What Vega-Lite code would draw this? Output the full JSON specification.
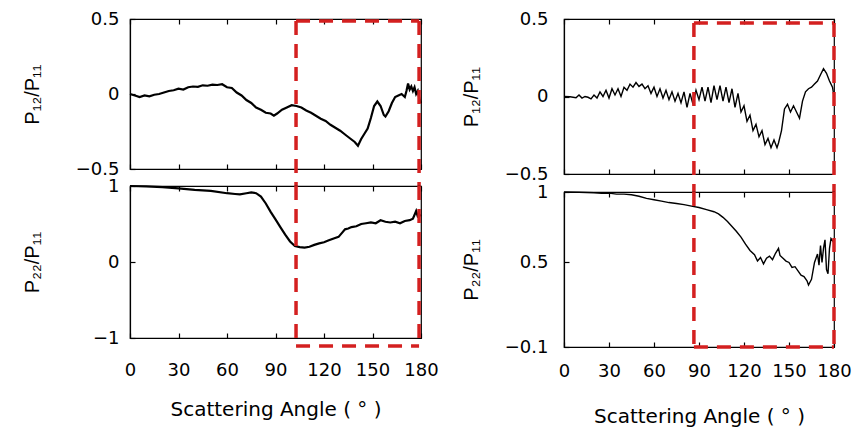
{
  "$schema": "https://vega.github.io/schema/vega-lite/v6.json",
  "background": "white",
  "padding": {"left": 21, "top": 9, "right": 0, "bottom": 0},
  "spacing": 21,
  "config": {
    "view": {"stroke": "black", "strokeWidth": 1.2},
    "font": "DejaVu Sans",
    "axis": {"grid": false, "domainColor": "black", "tickColor": "black", "labelColor": "black", "titleColor": "black", "labelFont": "DejaVu Sans", "titleFont": "DejaVu Sans", "labelFontSize": 18, "titleFontSize": 20, "titleFontWeight": "normal", "tickSize": -5, "domainWidth": 1.2, "tickWidth": 1.2, "labelOverlap": false, "labelFlush": false},
    "axisY": {"titleFont": "Liberation Sans", "format": "~g"}
  },
  "datasets": {
    "lt": [
      {"a":0,"v":0.0},{"a":3,"v":-0.01},{"a":6,"v":-0.02},{"a":9,"v":-0.01},{"a":12,"v":-0.015},{"a":15,"v":-0.005},{"a":18,"v":0.0},{"a":21,"v":0.01},{"a":24,"v":0.02},{"a":27,"v":0.025},{"a":30,"v":0.035},{"a":33,"v":0.03},{"a":36,"v":0.045},{"a":39,"v":0.05},{"a":42,"v":0.048},{"a":45,"v":0.058},{"a":48,"v":0.055},{"a":51,"v":0.062},{"a":54,"v":0.06},{"a":57,"v":0.065},{"a":60,"v":0.045},{"a":63,"v":0.04},{"a":66,"v":0.01},{"a":69,"v":-0.01},{"a":72,"v":-0.04},{"a":75,"v":-0.06},{"a":78,"v":-0.09},{"a":81,"v":-0.105},{"a":84,"v":-0.125},{"a":87,"v":-0.13},{"a":89,"v":-0.145},{"a":91,"v":-0.13},{"a":94,"v":-0.105},{"a":97,"v":-0.09},{"a":100,"v":-0.075},{"a":103,"v":-0.08},{"a":106,"v":-0.09},{"a":109,"v":-0.11},{"a":112,"v":-0.125},{"a":115,"v":-0.145},{"a":118,"v":-0.165},{"a":121,"v":-0.18},{"a":124,"v":-0.205},{"a":127,"v":-0.225},{"a":130,"v":-0.245},{"a":133,"v":-0.27},{"a":136,"v":-0.295},{"a":139,"v":-0.32},{"a":141,"v":-0.345},{"a":143,"v":-0.3},{"a":145,"v":-0.265},{"a":147,"v":-0.23},{"a":149,"v":-0.16},{"a":151,"v":-0.08},{"a":153,"v":-0.05},{"a":155,"v":-0.08},{"a":157,"v":-0.14},{"a":158,"v":-0.15},{"a":160,"v":-0.115},{"a":162,"v":-0.06},{"a":164,"v":-0.02},{"a":166,"v":-0.01},{"a":168,"v":0.0},{"a":170,"v":-0.02},{"a":171,"v":0.02},{"a":172,"v":0.07},{"a":173,"v":0.03},{"a":174,"v":0.05},{"a":175,"v":0.02},{"a":176,"v":0.045},{"a":177,"v":0.0},{"a":178,"v":0.02},{"a":179,"v":-0.03},{"a":180,"v":-0.06}
    ],
    "lb": [
      {"a":0,"v":1.0},{"a":10,"v":0.995},{"a":20,"v":0.985},{"a":30,"v":0.97},{"a":40,"v":0.95},{"a":50,"v":0.935},{"a":60,"v":0.905},{"a":65,"v":0.895},{"a":68,"v":0.89},{"a":72,"v":0.905},{"a":75,"v":0.915},{"a":78,"v":0.905},{"a":81,"v":0.86},{"a":84,"v":0.77},{"a":87,"v":0.66},{"a":90,"v":0.56},{"a":93,"v":0.46},{"a":96,"v":0.36},{"a":99,"v":0.27},{"a":102,"v":0.21},{"a":105,"v":0.195},{"a":108,"v":0.19},{"a":111,"v":0.2},{"a":114,"v":0.225},{"a":117,"v":0.245},{"a":120,"v":0.26},{"a":123,"v":0.285},{"a":126,"v":0.31},{"a":129,"v":0.33},{"a":131,"v":0.38},{"a":133,"v":0.43},{"a":135,"v":0.44},{"a":137,"v":0.46},{"a":140,"v":0.47},{"a":143,"v":0.5},{"a":146,"v":0.51},{"a":149,"v":0.52},{"a":152,"v":0.51},{"a":155,"v":0.55},{"a":158,"v":0.53},{"a":161,"v":0.52},{"a":164,"v":0.53},{"a":167,"v":0.51},{"a":170,"v":0.54},{"a":173,"v":0.55},{"a":175,"v":0.57},{"a":177,"v":0.67},{"a":178,"v":0.6},{"a":180,"v":0.62}
    ],
    "rt": [
      {"a":0,"v":0.0},{"a":4,"v":-0.002},{"a":8,"v":-0.008},{"a":10,"v":0.01},{"a":12,"v":-0.01},{"a":14,"v":0.0},{"a":16,"v":-0.005},{"a":18,"v":-0.015},{"a":20,"v":0.01},{"a":22,"v":-0.01},{"a":24,"v":0.03},{"a":26,"v":0.0},{"a":28,"v":0.04},{"a":30,"v":-0.01},{"a":32,"v":0.05},{"a":34,"v":0.01},{"a":36,"v":0.05},{"a":38,"v":0.0},{"a":40,"v":0.06},{"a":42,"v":0.04},{"a":44,"v":0.08},{"a":46,"v":0.06},{"a":48,"v":0.09},{"a":50,"v":0.065},{"a":52,"v":0.08},{"a":54,"v":0.05},{"a":56,"v":0.07},{"a":58,"v":0.02},{"a":60,"v":0.06},{"a":62,"v":0.0},{"a":64,"v":0.05},{"a":66,"v":-0.01},{"a":68,"v":0.04},{"a":70,"v":-0.02},{"a":72,"v":0.03},{"a":74,"v":-0.03},{"a":76,"v":0.02},{"a":78,"v":-0.04},{"a":80,"v":0.03},{"a":82,"v":-0.07},{"a":84,"v":0.02},{"a":86,"v":-0.05},{"a":88,"v":0.04},{"a":90,"v":-0.02},{"a":92,"v":0.06},{"a":94,"v":-0.03},{"a":96,"v":0.06},{"a":98,"v":-0.04},{"a":100,"v":0.07},{"a":102,"v":-0.02},{"a":104,"v":0.07},{"a":106,"v":-0.03},{"a":108,"v":0.06},{"a":110,"v":-0.04},{"a":112,"v":0.05},{"a":114,"v":-0.07},{"a":116,"v":0.02},{"a":118,"v":-0.1},{"a":120,"v":-0.06},{"a":122,"v":-0.16},{"a":124,"v":-0.12},{"a":126,"v":-0.22},{"a":128,"v":-0.18},{"a":130,"v":-0.26},{"a":132,"v":-0.22},{"a":134,"v":-0.31},{"a":136,"v":-0.27},{"a":138,"v":-0.33},{"a":140,"v":-0.28},{"a":142,"v":-0.33},{"a":143,"v":-0.3},{"a":145,"v":-0.22},{"a":147,"v":-0.08},{"a":149,"v":-0.05},{"a":151,"v":-0.1},{"a":153,"v":-0.06},{"a":155,"v":-0.1},{"a":157,"v":-0.14},{"a":159,"v":-0.03},{"a":161,"v":0.03},{"a":163,"v":0.05},{"a":165,"v":0.06},{"a":167,"v":0.08},{"a":169,"v":0.1},{"a":171,"v":0.14},{"a":173,"v":0.18},{"a":175,"v":0.15},{"a":177,"v":0.1},{"a":179,"v":0.06},{"a":180,"v":0.0}
    ],
    "rb": [
      {"a":0,"v":1.0},{"a":10,"v":0.998},{"a":20,"v":0.995},{"a":25,"v":0.99},{"a":30,"v":0.992},{"a":35,"v":0.985},{"a":40,"v":0.985},{"a":45,"v":0.98},{"a":50,"v":0.97},{"a":55,"v":0.955},{"a":60,"v":0.945},{"a":65,"v":0.935},{"a":70,"v":0.925},{"a":75,"v":0.918},{"a":80,"v":0.91},{"a":85,"v":0.9},{"a":90,"v":0.89},{"a":95,"v":0.875},{"a":100,"v":0.86},{"a":103,"v":0.845},{"a":106,"v":0.82},{"a":109,"v":0.79},{"a":112,"v":0.755},{"a":115,"v":0.72},{"a":118,"v":0.68},{"a":121,"v":0.63},{"a":124,"v":0.585},{"a":127,"v":0.555},{"a":129,"v":0.51},{"a":131,"v":0.535},{"a":133,"v":0.49},{"a":135,"v":0.53},{"a":137,"v":0.545},{"a":139,"v":0.52},{"a":141,"v":0.565},{"a":143,"v":0.6},{"a":144,"v":0.55},{"a":146,"v":0.53},{"a":148,"v":0.51},{"a":150,"v":0.5},{"a":152,"v":0.465},{"a":154,"v":0.47},{"a":156,"v":0.44},{"a":158,"v":0.41},{"a":160,"v":0.4},{"a":162,"v":0.37},{"a":163,"v":0.34},{"a":165,"v":0.38},{"a":167,"v":0.5},{"a":169,"v":0.56},{"a":170,"v":0.48},{"a":171,"v":0.62},{"a":172,"v":0.5},{"a":173,"v":0.6},{"a":174,"v":0.66},{"a":175,"v":0.45},{"a":176,"v":0.42},{"a":177,"v":0.6},{"a":178,"v":0.67},{"a":180,"v":0.64}
    ],
    "ltbox": [
      {"x":102.7,"x2":102.7,"y":0.487,"y2":-0.615},
      {"x":178.8,"x2":178.8,"y":0.487,"y2":-0.615},
      {"x":102.7,"x2":178.8,"y":0.487,"y2":0.487}
    ],
    "lbbox": [
      {"x":102.7,"x2":102.7,"y":1.0,"y2":-1.105},
      {"x":178.8,"x2":178.8,"y":1.0,"y2":-1.105},
      {"x":102.7,"x2":178.8,"y":-1.105,"y2":-1.105}
    ],
    "rtbox": [
      {"x":86.6,"x2":86.6,"y":0.474,"y2":-0.616},
      {"x":180,"x2":180,"y":0.474,"y2":-0.616},
      {"x":86.6,"x2":180,"y":0.474,"y2":0.474}
    ],
    "rbbox": [
      {"x":86.6,"x2":86.6,"y":1.0,"y2":-0.1},
      {"x":180,"x2":180,"y":1.0,"y2":-0.1},
      {"x":86.6,"x2":180,"y":-0.1,"y2":-0.1}
    ]
  },
  "hconcat": [
    {
      "spacing": 17,
      "bounds": "flush",
      "vconcat": [
        {
          "width": 291, "height": 150,
          "layer": [
            {
              "data": {"name": "lt"},
              "mark": {"type": "line", "color": "black", "strokeWidth": 2.2},
              "encoding": {
                "x": {"field": "a", "type": "quantitative", "scale": {"domain": [0, 180], "nice": false}, "axis": {"orient": "bottom", "values": [0,30,60,90,120,150,180], "labels": false, "title": null}},
                "y": {"field": "v", "type": "quantitative", "title": "P₁₂/P₁₁", "scale": {"domain": [-0.5, 0.5], "nice": false, "zero": false}, "axis": {"orient": "left", "values": [-0.5, 0, 0.5], "labelPadding": 16, "titleX": -88}}
              }
            },
            {
              "data": {"name": "ltbox"},
              "mark": {"type": "rule", "color": "#d42020", "strokeWidth": 3.5, "strokeDash": [14, 9]},
              "encoding": {
                "x": {"field": "x", "type": "quantitative", "axis": {"orient": "top", "values": [0,30,60,90,120,150,180], "labels": false, "domain": false, "title": null}},
                "x2": {"field": "x2"},
                "y": {"field": "y", "type": "quantitative", "title": "P₁₂/P₁₁"},
                "y2": {"field": "y2"}
              }
            }
          ]
        },
        {
          "width": 291, "height": 152,
          "layer": [
            {
              "data": {"name": "lb"},
              "mark": {"type": "line", "color": "black", "strokeWidth": 2.2},
              "encoding": {
                "x": {"field": "a", "type": "quantitative", "scale": {"domain": [0, 180], "nice": false}, "axis": {"orient": "bottom", "values": [0,30,60,90,120,150,180], "labelPadding": 28, "title": "Scattering Angle ( ° )", "titlePadding": 20}},
                "y": {"field": "v", "type": "quantitative", "title": "P₂₂/P₁₁", "scale": {"domain": [-1, 1], "nice": false, "zero": false}, "axis": {"orient": "left", "values": [-1, -0.5, 0, 0.5, 1], "labelPadding": 16, "titleX": -88}}
              }
            },
            {
              "data": {"name": "lbbox"},
              "mark": {"type": "rule", "color": "#d42020", "strokeWidth": 3.5, "strokeDash": [14, 9]},
              "encoding": {
                "x": {"field": "x", "type": "quantitative", "axis": {"orient": "top", "values": [0,30,60,90,120,150,180], "labels": false, "domain": false, "title": null}},
                "x2": {"field": "x2"},
                "y": {"field": "y", "type": "quantitative", "title": "P₂₂/P₁₁"},
                "y2": {"field": "y2"}
              }
            }
          ]
        }
      ]
    },
    {
      "spacing": 18,
      "bounds": "flush",
      "vconcat": [
        {
          "width": 270, "height": 155,
          "layer": [
            {
              "data": {"name": "rt"},
              "mark": {"type": "line", "color": "black", "strokeWidth": 1.4},
              "encoding": {
                "x": {"field": "a", "type": "quantitative", "scale": {"domain": [0, 180], "nice": false}, "axis": {"orient": "bottom", "values": [0,30,60,90,120,150,180], "labels": false, "title": null}},
                "y": {"field": "v", "type": "quantitative", "title": "P₁₂/P₁₁", "scale": {"domain": [-0.5, 0.5], "nice": false, "zero": false}, "axis": {"orient": "left", "values": [-0.5, 0, 0.5], "labelPadding": 21, "titleX": -83}}
              }
            },
            {
              "data": {"name": "rtbox"},
              "mark": {"type": "rule", "color": "#d42020", "strokeWidth": 3.5, "strokeDash": [14, 9]},
              "encoding": {
                "x": {"field": "x", "type": "quantitative", "axis": {"orient": "top", "values": [0,30,60,90,120,150,180], "labels": false, "domain": false, "title": null}},
                "x2": {"field": "x2"},
                "y": {"field": "y", "type": "quantitative", "title": "P₁₂/P₁₁"},
                "y2": {"field": "y2"}
              }
            }
          ]
        },
        {
          "width": 270, "height": 155,
          "layer": [
            {
              "data": {"name": "rb"},
              "mark": {"type": "line", "color": "black", "strokeWidth": 1.4},
              "encoding": {
                "x": {"field": "a", "type": "quantitative", "scale": {"domain": [0, 180], "nice": false}, "axis": {"orient": "bottom", "values": [0,30,60,90,120,150,180], "labelPadding": 20, "title": "Scattering Angle ( ° )", "titlePadding": 26}},
                "y": {"field": "v", "type": "quantitative", "title": "P₂₂/P₁₁", "scale": {"domain": [-0.1, 1], "nice": false, "zero": false}, "axis": {"orient": "left", "values": [-0.1, 0.5, 1], "labelPadding": 21, "titleX": -83}}
              }
            },
            {
              "data": {"name": "rbbox"},
              "mark": {"type": "rule", "color": "#d42020", "strokeWidth": 3.5, "strokeDash": [14, 9]},
              "encoding": {
                "x": {"field": "x", "type": "quantitative", "axis": {"orient": "top", "values": [0,30,60,90,120,150,180], "labels": false, "domain": false, "title": null}},
                "x2": {"field": "x2"},
                "y": {"field": "y", "type": "quantitative", "title": "P₂₂/P₁₁"},
                "y2": {"field": "y2"}
              }
            }
          ]
        }
      ]
    }
  ]
}
